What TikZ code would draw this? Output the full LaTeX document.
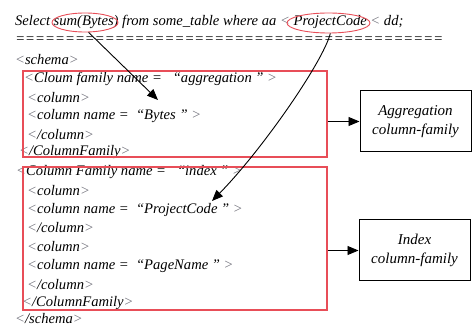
\documentclass[tikz,border=0pt]{standalone}
\usepackage{fontspec}
\setmainfont{Liberation Serif}
\usetikzlibrary{shapes.geometric,arrows.meta}
\definecolor{boxred}{RGB}{232,78,88}
\definecolor{brk}{RGB}{110,110,120}
\tikzset{
  code/.style={anchor=west,inner sep=0pt,font=\fontsize{14.6}{16}\selectfont\itshape},
  redbox/.style={draw=boxred,line width=1.2pt,inner sep=0pt},
  mark ring/.style={draw=boxred,line width=0.9pt,ellipse,inner sep=0pt},
  famcard/.style={draw,line width=1pt,minimum width=111pt,minimum height=61pt,
    align=center,font=\fontsize{15}{19}\selectfont\itshape},
  link/.style={line width=0.9pt,-{Triangle[length=11pt,width=9pt]}},
}
\newcommand{\lt}{\textcolor{brk}{<}}
\newcommand{\gt}{\textcolor{brk}{>}}
\begin{document}
\begin{tikzpicture}[x=1pt,y=-1pt]
\useasboundingbox (0,0) rectangle (472,326);

% query and separator row of equals signs
\node[code] (q) at (15,22) {Select sum(Bytes) from some\_table where aa \lt\ ProjectCode \lt\ dd;};
\node[code] (sep) at (15,40) {\makebox[428pt][l]{\xleaders\hbox{=}\hfill}};
\node[mark ring,minimum width=66pt,minimum height=19pt] (e1) at (85,22.5) {};
\node[mark ring,minimum width=83pt,minimum height=20pt] (e2) at (328.5,23) {};

% schema listing
\node[code] (s0) at (15,60) {\lt schema\gt};
\node[code] (a0) at (24,79) {\lt Cloum family name =\ \ \ “aggregation ” \gt};
\node[code] (a1) at (27,98) {\lt column\gt};
\node[code] (a2) at (27,116.5) {\lt column name =\ \ “Bytes ” \gt};
\node[code] (a3) at (27,135) {\lt/column\gt};
\node[code] (a4) at (19,152.5) {\lt/ColumnFamily\gt};
\node[code] (b0) at (16,172) {\lt Column Family name =\ \ \ “index ” \gt};
\node[code] (b1) at (27,191) {\lt column\gt};
\node[code] (b2) at (27,209.5) {\lt column name =\ \ “ProjectCode ” \gt};
\node[code] (b3) at (27,228) {\lt/column\gt};
\node[code] (b4) at (27,247) {\lt column\gt};
\node[code] (b5) at (27,266) {\lt column name =\ \ “PageName ” \gt};
\node[code] (b6) at (27,284.5) {\lt/column\gt};
\node[code] (b7) at (22,303) {\lt/ColumnFamily\gt};
\node[code] (s1) at (15,318.5) {\lt/schema\gt};

% column family frames
\node[redbox,minimum width=304pt,minimum height=86pt] (cf1) at (175,114) {};
\node[redbox,minimum width=304pt,minimum height=143pt] (cf2) at (175,238.5) {};

% family cards
\node[famcard] (agg) at (415.5,121.5) {Aggregation\\column-family};
\node[famcard] (idx) at (414.5,250.5) {Index\\column-family};

% connectors
\coordinate (bytesTip) at (158,100);
\coordinate (codeTip) at (212,201);
\draw[link] (e1.-70) -- (bytesTip);
\draw[link] (e2.-80) .. controls (323,62) and (262,150) .. (codeTip);
\draw[link] (cf1.east |- agg) -- (agg);
\draw[link] (cf2.east |- idx) -- (idx);
\end{tikzpicture}
\end{document}
